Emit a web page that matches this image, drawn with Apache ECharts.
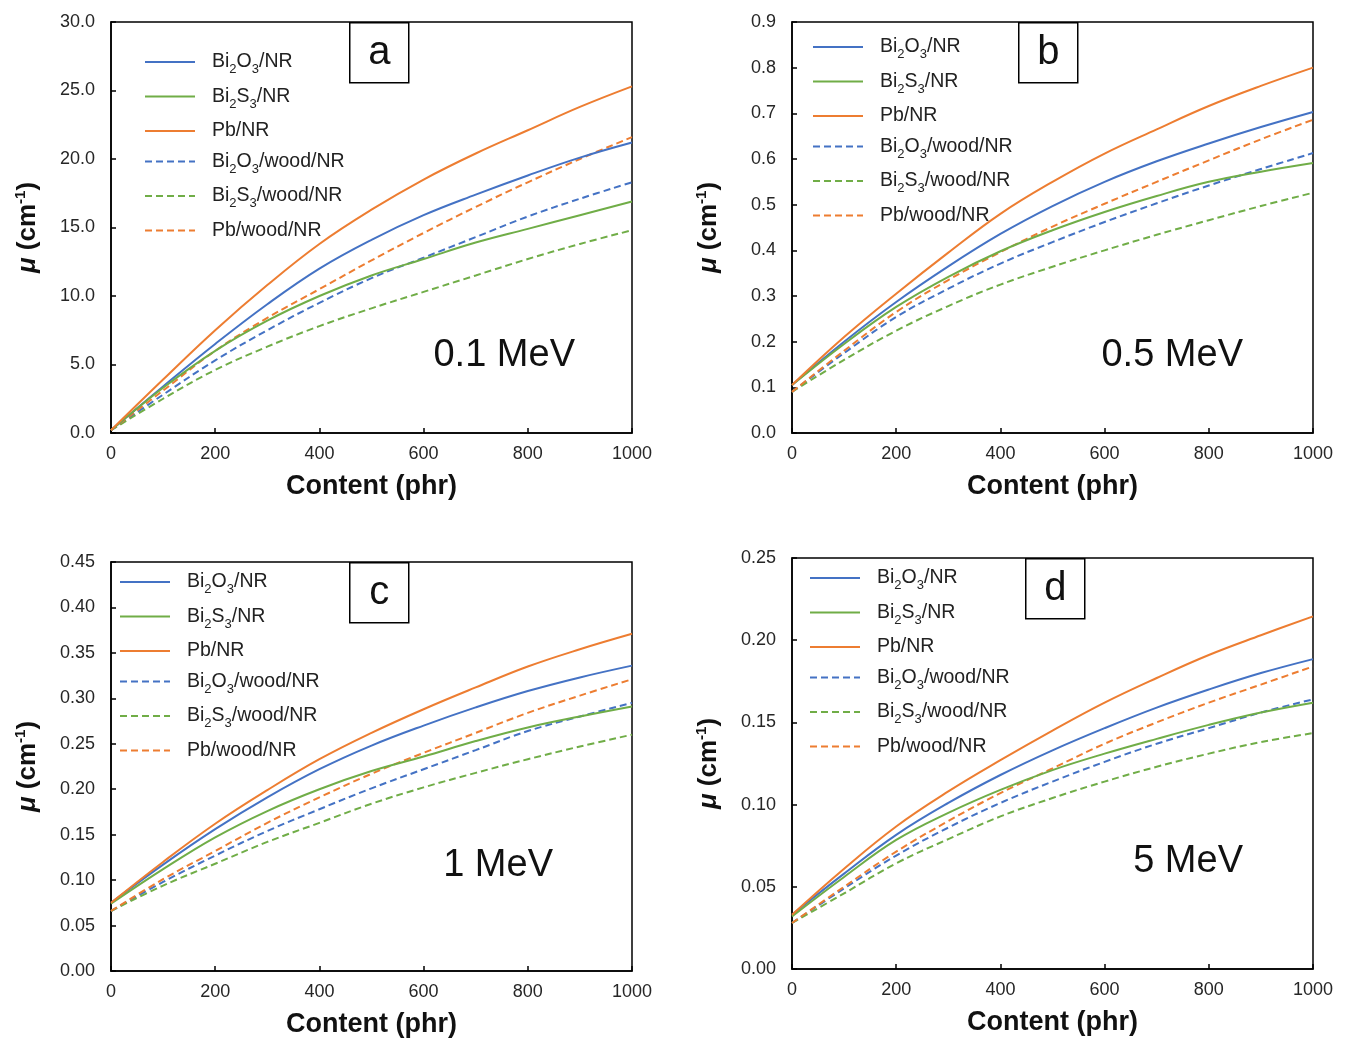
<!DOCTYPE html>
<html>
<head>
<meta charset="utf-8">
<script src="https://cdn.jsdelivr.net/npm/echarts@6/dist/echarts.min.js"></script>
<style>
html,body{margin:0;padding:0;background:#fff;}
#chart{width:1348px;height:1039px;}
</style>
</head>
<body>
<div id="chart"></div>
<script>
// ---- data ----
const content = [0, 100, 200, 300, 400, 500, 600, 700, 800, 900, 1000];
const seriesNames = ['Bi2O3/NR', 'Bi2S3/NR', 'Pb/NR', 'Bi2O3/wood/NR', 'Bi2S3/wood/NR', 'Pb/wood/NR'];
const panelLetters = ['a', 'b', 'c', 'd'];
const energyLabels = ['0.1 MeV', '0.5 MeV', '1 MeV', '5 MeV'];
const yMax = [30, 0.9, 0.45, 0.25];
const yStep = [5, 0.1, 0.05, 0.05];
const yDecimals = [1, 1, 2, 2];

// 0.1 MeV
const a_Bi2O3_NR = [0.2, 3.4, 6.5, 9.4, 12.0, 14.1, 15.9, 17.4, 18.8, 20.1, 21.2];
const a_Bi2S3_NR = [0.2, 3.3, 6.0, 8.2, 10.0, 11.5, 12.7, 13.9, 14.9, 15.9, 16.9];
const a_Pb_NR = [0.2, 3.9, 7.5, 10.8, 13.8, 16.3, 18.5, 20.4, 22.1, 23.8, 25.3];
const a_Bi2O3_wood = [0.2, 2.8, 5.3, 7.5, 9.5, 11.3, 12.8, 14.3, 15.8, 17.1, 18.3];
const a_Bi2S3_wood = [0.2, 2.5, 4.6, 6.3, 7.8, 9.1, 10.3, 11.5, 12.7, 13.8, 14.8];
const a_Pb_wood = [0.2, 3.1, 6.0, 8.4, 10.5, 12.6, 14.6, 16.5, 18.3, 20.0, 21.6];
// 0.5 MeV
const b_Bi2O3_NR = [0.105, 0.20, 0.287, 0.365, 0.436, 0.497, 0.55, 0.595, 0.634, 0.67, 0.703];
const b_Bi2S3_NR = [0.105, 0.195, 0.276, 0.342, 0.398, 0.444, 0.484, 0.519, 0.55, 0.572, 0.591];
const b_Pb_NR = [0.105, 0.21, 0.305, 0.395, 0.48, 0.55, 0.612, 0.665, 0.716, 0.76, 0.80];
const b_Bi2O3_wood = [0.09, 0.175, 0.254, 0.316, 0.371, 0.418, 0.462, 0.503, 0.542, 0.578, 0.613];
const b_Bi2S3_wood = [0.09, 0.16, 0.224, 0.278, 0.325, 0.364, 0.400, 0.434, 0.466, 0.497, 0.526];
const b_Pb_wood = [0.09, 0.18, 0.265, 0.335, 0.396, 0.452, 0.502, 0.55, 0.597, 0.643, 0.686];
// 1 MeV
const c_Bi2O3_NR = [0.075, 0.117, 0.156, 0.191, 0.222, 0.248, 0.270, 0.290, 0.308, 0.323, 0.336];
const c_Bi2S3_NR = [0.074, 0.112, 0.147, 0.176, 0.20, 0.22, 0.236, 0.253, 0.268, 0.28, 0.291];
const c_Pb_NR = [0.075, 0.12, 0.162, 0.199, 0.233, 0.262, 0.288, 0.312, 0.335, 0.354, 0.371];
const c_Bi2O3_wood = [0.066, 0.098, 0.127, 0.154, 0.178, 0.201, 0.222, 0.243, 0.264, 0.28, 0.295];
const c_Bi2S3_wood = [0.066, 0.094, 0.118, 0.142, 0.163, 0.184, 0.202, 0.218, 0.233, 0.247, 0.26];
const c_Pb_wood = [0.066, 0.101, 0.132, 0.163, 0.191, 0.217, 0.24, 0.262, 0.284, 0.303, 0.321];
// 5 MeV
const d_Bi2O3_NR = [0.033, 0.058, 0.0816, 0.101, 0.118, 0.133, 0.1465, 0.159, 0.17, 0.18, 0.1885];
const d_Bi2S3_NR = [0.032, 0.056, 0.0785, 0.095, 0.109, 0.121, 0.131, 0.14, 0.1485, 0.156, 0.162];
const d_Pb_NR = [0.033, 0.061, 0.0867, 0.108, 0.127, 0.145, 0.162, 0.177, 0.191, 0.203, 0.2145];
const d_Bi2O3_wood = [0.028, 0.049, 0.069, 0.086, 0.101, 0.114, 0.126, 0.137, 0.1465, 0.156, 0.164];
const d_Bi2S3_wood = [0.028, 0.046, 0.0643, 0.079, 0.0928, 0.104, 0.114, 0.123, 0.131, 0.138, 0.1435];
const d_Pb_wood = [0.028, 0.05, 0.0714, 0.09, 0.107, 0.122, 0.137, 0.15, 0.162, 0.173, 0.184];

const panelData = [
  [a_Bi2O3_NR, a_Bi2S3_NR, a_Pb_NR, a_Bi2O3_wood, a_Bi2S3_wood, a_Pb_wood],
  [b_Bi2O3_NR, b_Bi2S3_NR, b_Pb_NR, b_Bi2O3_wood, b_Bi2S3_wood, b_Pb_wood],
  [c_Bi2O3_NR, c_Bi2S3_NR, c_Pb_NR, c_Bi2O3_wood, c_Bi2S3_wood, c_Pb_wood],
  [d_Bi2O3_NR, d_Bi2S3_NR, d_Pb_NR, d_Bi2O3_wood, d_Bi2S3_wood, d_Pb_wood]
];

// ---- styles / layout ----
const FONT = '"Liberation Sans", Arial, sans-serif';
const colors = ['#4472C4', '#70AD47', '#ED7D31', '#4472C4', '#70AD47', '#ED7D31'];
const dashed = [false, false, false, true, true, true];
const grids = [
  {left: 111, top: 22, width: 521, height: 411},
  {left: 792, top: 22, width: 521, height: 411},
  {left: 111, top: 562, width: 521, height: 410},
  {left: 792, top: 558, width: 521, height: 411}
];
const legendPos = [
  {left: 144, top: 52},
  {left: 812, top: 37},
  {left: 119, top: 572},
  {left: 809, top: 568}
];
const letterBoxes = [
  {x: 349, y: 22},
  {x: 1018, y: 22},
  {x: 349, y: 562},
  {x: 1025, y: 558}
];
const energyPos = [
  {x: 575, y: 356},
  {x: 1243, y: 356},
  {x: 553, y: 866},
  {x: 1243, y: 862}
];

const chart = echarts.init(document.getElementById('chart'), null, {renderer: 'canvas'});

const option = {
  backgroundColor: '#fff',
  animation: false,
  grid: grids.map(g => Object.assign({show: true, borderColor: '#000', borderWidth: 1.5, backgroundColor: 'transparent', containLabel: false}, g)),
  xAxis: grids.map((g, i) => ({
    type: 'value', gridIndex: i, min: 0, max: 1000, interval: 200,
    name: 'Content (phr)', nameLocation: 'middle', nameGap: 40,
    nameTextStyle: {fontFamily: FONT, fontWeight: 'bold', fontSize: 27, color: '#111'},
    axisLine: {show: true, lineStyle: {color: '#000', width: 1.5}},
    axisTick: {show: true, inside: true, length: 5, lineStyle: {color: '#000', width: 1.5}},
    axisLabel: {fontFamily: FONT, fontSize: 18, color: '#262626', margin: 12, formatter: v => String(v)},
    splitLine: {show: false}
  })),
  yAxis: grids.map((g, i) => ({
    type: 'value', gridIndex: i, min: 0, max: yMax[i], interval: yStep[i],
    name: '{i|μ}{b| (cm}{sup|-1}{b|)}', nameLocation: 'middle', nameGap: 68, nameRotate: 90,
    nameTextStyle: {
      fontFamily: FONT, fontWeight: 'bold', fontSize: 26, color: '#111',
      rich: {
        i: {fontFamily: FONT, fontWeight: 'bold', fontStyle: 'italic', fontSize: 26, color: '#111', lineHeight: 30},
        b: {fontFamily: FONT, fontWeight: 'bold', fontSize: 26, color: '#111', lineHeight: 30},
        sup: {fontFamily: FONT, fontWeight: 'bold', fontSize: 15, color: '#111', verticalAlign: 'top', lineHeight: 30}
      }
    },
    axisLine: {show: true, lineStyle: {color: '#000', width: 1.5}},
    axisTick: {show: true, inside: true, length: 5, lineStyle: {color: '#000', width: 1.5}},
    axisLabel: {fontFamily: FONT, fontSize: 18, color: '#262626', margin: 16,
      formatter: v => v.toFixed(yDecimals[i])},
    splitLine: {show: false}
  })),
  legend: legendPos.map(p => ({
    left: p.left, top: p.top, orient: 'vertical', padding: 0,
    itemWidth: 50, itemHeight: 14, itemGap: 10.5,
    data: seriesNames,
    selectedMode: false,
    itemStyle: {opacity: 0},
    formatter: name => name.replace(/(\d)/g, '{s|$1}').replace(/(^|\})([^{}]+)(?=\{|$)/g, '$1{n|$2}'),
    textStyle: {
      fontFamily: FONT, fontSize: 19.5, color: '#222', padding: [0, 0, 0, 12],
      rich: {
        n: {fontFamily: FONT, fontSize: 19.5, color: '#222', lineHeight: 20, verticalAlign: 'middle'},
        s: {fontFamily: FONT, fontSize: 13, color: '#222', lineHeight: 20, verticalAlign: 'bottom', padding: [0, 0, -4, 0]}
      }
    }
  })),
  graphic: [].concat(
    letterBoxes.map((b, i) => ({
      type: 'group', left: b.x, top: b.y,
      children: [
        {type: 'rect', shape: {x: 0, y: 0, width: 59, height: 60}, style: {fill: '#fff', stroke: '#000', lineWidth: 1.5}},
        {type: 'text', x: 29.5, y: 30, style: {text: panelLetters[i], font: '40px ' + FONT, fill: '#111', textAlign: 'center', textVerticalAlign: 'middle'}}
      ]
    })),
    energyPos.map((p, i) => ({
      type: 'text', x: p.x, y: p.y,
      style: {text: energyLabels[i], font: '38px ' + FONT, fill: '#111', textAlign: 'right', textVerticalAlign: 'middle'}
    }))
  ),
  series: []
};

panelData.forEach((arrs, pi) => {
  arrs.forEach((vals, si) => {
    option.series.push({
      type: 'line', name: seriesNames[si], xAxisIndex: pi, yAxisIndex: pi,
      data: content.map((x, k) => [x, vals[k]]),
      smooth: 0.4, symbol: 'none', showSymbol: false,
      lineStyle: {color: colors[si], width: 2, type: dashed[si] ? [7, 4] : 'solid'},
      itemStyle: {color: colors[si]},
      z: dashed[si] ? 3 : 4
    });
  });
});

chart.setOption(option);
</script>
</body>
</html>
